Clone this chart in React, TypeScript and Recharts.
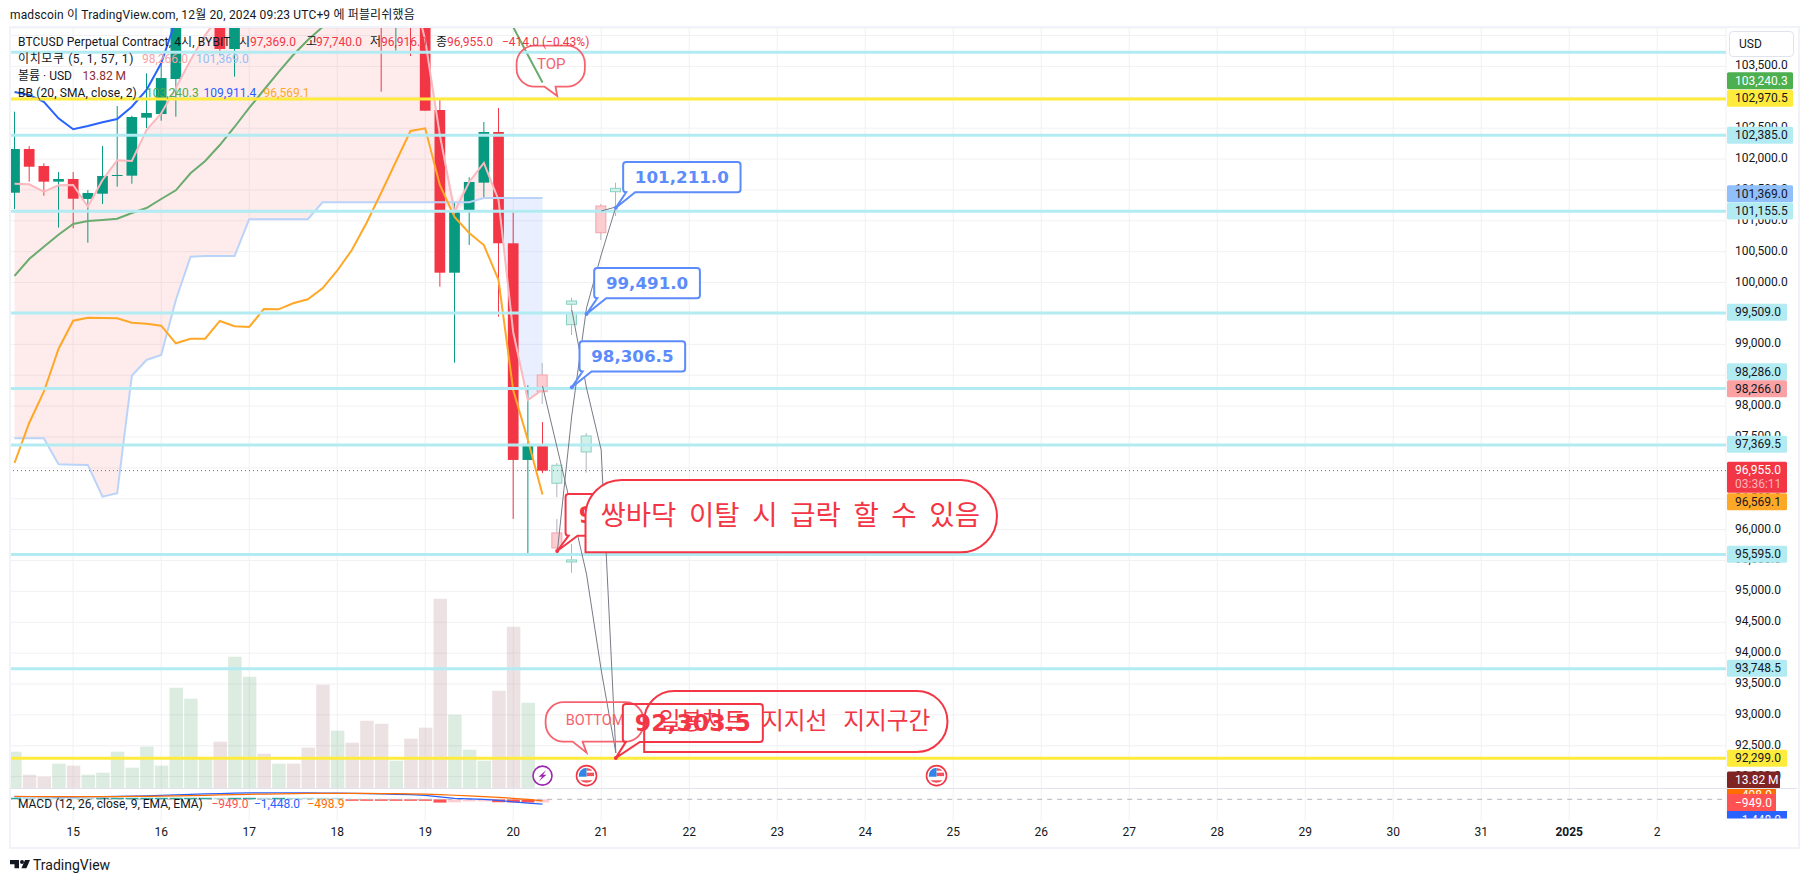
import React from "react";
import {
  Area,
  Bar,
  CartesianGrid,
  Cell,
  ComposedChart,
  Line,
  ReferenceDot,
  ReferenceLine,
  XAxis,
  YAxis,
} from "recharts";

// 4h bars, slot 0 is the first visible candle of Dec 14
const slotCount = 117;
const dayTicks = [4, 10, 16, 22, 28, 34, 40, 46, 52, 58, 64, 70, 76, 82, 88, 94, 100, 106, 112];
const dayLabels = ["15", "16", "17", "18", "19", "20", "21", "22", "23", "24", "25", "26", "27", "28", "29", "30", "31", "2025", "2"];
const priceTicks = [92000, 92500, 93000, 93500, 94000, 94500, 95000, 95500, 96000, 96500, 97000, 97500, 98000, 98500, 99000, 99500, 100000, 100500, 101000, 101500, 102000, 102500, 103000, 103500, 104000];

const opens = [101455, 102163, 101888, 101634, 101677, 101354, 101439, 101731, 101731, 102670, 102729, 103296, 104300, 105000, 105400, 103782, 104900, 105900, 105100, 105500, 105200, 105800, 105100, 105800, 105300, 105300, 104500, 105400, 104900, 102794, 100160, 101147, 101618, 102438, 100636, 97128, 97369];
const highs = [102767, 102211, 101932, 101791, 101791, 101499, 102211, 102859, 102702, 103388, 103604, 104700, 105300, 105900, 105600, 105100, 106100, 106200, 105800, 105900, 105500, 106000, 106000, 106000, 105500, 105500, 105600, 105600, 105100, 102973, 101310, 101705, 102600, 102827, 101159, 98337, 97740];
const lows = [101191, 101634, 101407, 100889, 100879, 100646, 101272, 101553, 101601, 102503, 102621, 102686, 104250, 104800, 103685, 103333, 104600, 104900, 104800, 104900, 104700, 104900, 104800, 105000, 104500, 103091, 103755, 103669, 102783, 99933, 98703, 100609, 101370, 99448, 96172, 95590, 96916];
const closes = [102163, 101876, 101634, 101677, 101358, 101451, 101726, 101742, 102681, 102746, 103312, 104300, 105000, 105600, 103782, 104900, 105900, 105100, 105500, 105200, 104900, 105100, 105800, 105300, 104800, 104500, 105400, 104900, 102783, 100160, 101164, 101629, 102438, 100636, 97128, 97387, 96955];
const volumes = [336, 129, 111, 228, 210, 129, 147, 336, 192, 381, 210, 912, 813, 285, 426, 1191, 1011, 318, 228, 228, 372, 939, 525, 417, 615, 588, 255, 453, 552, 1713, 669, 354, 255, 885, 1461, 777, 13.82];

const leadOne = [101601, 101591, 101471, 101575, 101580, 101229, 101661, 101980, 101968, 102470, 102741, 103150, 103604, 104008, 104332, 104600, 104800, 105000, 105200, 105300, 105400, 105500, 105500, 105600, 105500, 105400, 105300, 104900, 103927, 102389, 101143, 101629, 101936, 101337, 99200, 98099, 98266];
const leadTwo = [97479, 97479, 97479, 97058, 97052, 97047, 96534, 96588, 98492, 98747, 98828, 99718, 100419, 100430, 100430, 100430, 101025, 101025, 101025, 101025, 101025, 101300, 101300, 101300, 101300, 101300, 101300, 101300, 101300, 101300, 101300, 101300, 101369, 101369, 101369, 101369, 101369];
const bbUpper = [103086, 103037, 102928, 102660, 102482, 102535, 102595, 102648, 102848, 103118, 103550, 104251, 104900, 105500, 106100, 106600, 107000, 107300, 107600, 107800, 108000, 108150, 108300, 108400, 108500, 108600, 108700, 108850, 109000, 109150, 109300, 109450, 109550, 109650, 109750, 109850, 109911.4];
const bbBasis = [100107, 100382, 100581, 100775, 100949, 100997, 101013, 101034, 101127, 101207, 101353, 101494, 101769, 101968, 102227, 102519, 102827, 103118, 103409, 103685, 103927, 104138, 104500, 104800, 105000, 105200, 105300, 105400, 105400, 105300, 105100, 104900, 104700, 104400, 104138, 103685, 103240.3];
const bbLower = [97079, 97727, 98233, 98925, 99383, 99432, 99427, 99422, 99350, 99334, 99302, 99017, 99091, 99091, 99378, 99292, 99281, 99572, 99567, 99665, 99729, 99907, 100192, 100527, 100965, 101455, 101957, 102454, 102498, 101580, 101062, 100803, 100608, 100042, 98261, 97451, 96569.1];

const macdLine = [790, 780, 760, 740, 750, 780, 830, 880, 950, 1050, 1150, 1300, 1450, 1600, 1720, 1830, 1900, 1950, 1970, 1960, 1920, 1880, 1850, 1800, 1700, 1600, 1500, 1400, 1150, 750, 300, 100, -50, -300, -800, -1150, -1448];
const macdSignal = [850, 840, 830, 820, 810, 810, 820, 830, 850, 890, 940, 1000, 1100, 1200, 1300, 1400, 1500, 1580, 1650, 1700, 1750, 1780, 1790, 1790, 1760, 1720, 1680, 1620, 1550, 1420, 1220, 1000, 800, 580, 300, -50, -498.9];
const macdHist = [300, 280, 150, 120, 100, 90, 100, 110, 130, 200, 260, 330, 400, 420, 300, 330, 350, 280, 300, 250, 180, 120, 60, -10, -60, -120, -220, -280, -400, -1000, -920, -640, -620, -880, -950, -980, -949];

// the pasted "ghost feed" candles after the last real bar
const ghostFirst = [
  { slot: 36, open: 98504, high: 98698, low: 98035, close: 98233 },
  { slot: 37, open: 96751, high: 97079, low: 96524, close: 97042 },
  { slot: 38, open: 99318, high: 99751, low: 99151, close: 99508 },
  { slot: 39, open: 97257, high: 97565, low: 96922, close: 97516 },
  { slot: 40, open: 101240, high: 101272, low: 100689, close: 100807 },
  { slot: 41, open: 101471, high: 101617, low: 101078, close: 101526 },
];
const ghostSecond = [
  { slot: 37, open: 95946, high: 96172, low: 95590, close: 95703 },
  { slot: 38, open: 99649, high: 99751, low: 99600, close: 99702 },
];
const ghostThird = [{ slot: 38, open: 95476, high: 95768, low: 95303, close: 95509 }];

// gray ghost feed paths
const pathOne = [
  { slot: 36, price: 98326 },
  { slot: 37, price: 97322 },
  { slot: 38, price: 96318 },
  { slot: 39, price: 95282 },
  { slot: 40, price: 93728 },
  { slot: 41, price: 92384 },
];
const pathTwo = [
  { slot: 37, price: 95622 },
  { slot: 38, price: 97856 },
  { slot: 39, price: 99589 },
  { slot: 40, price: 100447 },
  { slot: 41, price: 101224 },
];
const pathThree = [
  { slot: 38, price: 99556 },
  { slot: 39, price: 98293 },
  { slot: 40, price: 97290 },
  { slot: 41, price: 92384 },
];
const pathFour = [
  { slot: 40, price: 101159 },
  { slot: 41, price: 101224 },
];

const cyanLevels = [103729, 102385, 101155.5, 99509, 98286, 97369.5, 95595, 93748.5];
const yellowLevels = [102970.5, 92299];
const lastPrice = 96955;

const tagTexts = ["103,240.3", "102,970.5", "102,385.0", "101,369.0", "101,155.5", "99,509.0", "98,286.0", "98,266.0", "97,369.5", "96,569.1", "95,595.0", "93,748.5", "92,299.0", "13.82 M"];
const tagAnchors = [103269, 102984, 102385, 101439, 101159, 99519, 98557, 98282, 97382, 96453, 95601, 93755, 92298, 91947];
const tagFills = ["#4caf50", "#ffeb3b", "#b2ebf2", "#90bff9", "#b2ebf2", "#b2ebf2", "#b2ebf2", "#faa1a4", "#b2ebf2", "#ffa726", "#b2ebf2", "#b2ebf2", "#ffeb3b", "#7f2323"];
const tagInks = ["#fff", "#131722", "#131722", "#131722", "#131722", "#131722", "#131722", "#131722", "#131722", "#131722", "#131722", "#131722", "#131722", "#fff"];
const macdTagTexts = ["\u2212498.9", "\u2212949.0", "\u22121,448.0"];
const macdTagAnchors = [1440, -960, -6060];
const macdTagFills = ["#ff6d00", "#ff5252", "#2962ff"];

const cloudSwitch = 33;

const toOhlc = (i: number) => ({ open: opens[i], high: highs[i], low: lows[i], close: closes[i] });
const rows = Array.from({ length: slotCount }, (_, slot) => {
  const real = slot < opens.length;
  const lo = Math.min(leadOne[slot], leadTwo[slot]);
  const hi = Math.max(leadOne[slot], leadTwo[slot]);
  return {
    slot,
    candle: real ? toOhlc(slot) : null,
    volume: real ? volumes[slot] : null,
    leadOne: real ? leadOne[slot] : null,
    leadTwo: real ? leadTwo[slot] : null,
    bbUpper: real ? bbUpper[slot] : null,
    bbBasis: real ? bbBasis[slot] : null,
    bbLower: real ? bbLower[slot] : null,
    cloudPink: real && slot <= cloudSwitch ? [lo, hi] : null,
    cloudBlue: real && slot >= cloudSwitch ? [lo, hi] : null,
    macd: real ? macdLine[slot] : null,
    signal: real ? macdSignal[slot] : null,
    hist: real ? macdHist[slot] : null,
    ghostFirst: ghostFirst.find((g) => g.slot === slot) ?? null,
    ghostSecond: ghostSecond.find((g) => g.slot === slot) ?? null,
    ghostThird: ghostThird.find((g) => g.slot === slot) ?? null,
    pathOne: pathOne.find((g) => g.slot === slot)?.price ?? null,
    pathTwo: pathTwo.find((g) => g.slot === slot)?.price ?? null,
    pathThree: pathThree.find((g) => g.slot === slot)?.price ?? null,
    pathFour: pathFour.find((g) => g.slot === slot)?.price ?? null,
  };
});

const UI_FONT = "Roboto, 'Noto Sans CJK KR', sans-serif";
const CALLOUT_FONT = "'DejaVu Sans', sans-serif";
const RED = "#f23645";
const GREEN = "#089981";
const TAG_X = 1727;
const TAG_TEXT_X = 1735;
const PRICE_DOMAIN = [91800, 104122];

// wick + body, the y scale comes from the bar rectangle recharts hands over
const candleShape =
  (key: string, ghost: boolean) =>
  (props: any) => {
    const { x, y, width, height, payload } = props;
    const c = payload[key];
    if (!c) return <g />;
    const perPrice = height / (c.high - c.low);
    const top = y + (c.high - Math.max(c.open, c.close)) * perPrice;
    const bodyH = Math.max(Math.abs(c.open - c.close) * perPrice, 1);
    const up = c.close >= c.open;
    const mid = x + width / 2;
    if (ghost) {
      return (
        <g>
          <line x1={mid} x2={mid} y1={y} y2={y + height} stroke="#b2b5be" />
          <rect
            x={x}
            y={top}
            width={width}
            height={bodyH}
            fill={up ? "#d2f0ea" : "#fbcdd1"}
            stroke={up ? "#8ad0c3" : "#f4a3aa"}
            strokeWidth={1}
          />
        </g>
      );
    }
    const color = up ? GREEN : RED;
    return (
      <g>
        <line x1={mid} x2={mid} y1={y} y2={y + height} stroke={color} />
        <rect x={x} y={top} width={width} height={bodyH} fill={color} />
      </g>
    );
  };

// MACD histogram column, dark while the bar grows away from zero
const histShape = (props: any) => {
  const { x, y, width, height, payload } = props;
  const h = payload.hist;
  if (h === null || h === undefined) return <g />;
  const prev = payload.slot > 0 ? macdHist[payload.slot - 1] : 0;
  const strong = h >= 0 ? h >= prev : h <= prev;
  const fill = h >= 0 ? (strong ? "#26a69a" : "#b2dfdb") : strong ? "#ff5252" : "#ffcdd2";
  const tall = Math.max(Math.abs(height), 1.5);
  // keep thin columns on their own side of the zero line
  const top = h >= 0 ? y + height - tall : height < 0 ? y + height : y;
  return <rect x={x} y={top} width={width} height={tall} fill={fill} />;
};

const PriceTick = (props: any) =>
  // 104,000 sits behind the USD button in the reference
  props.payload.value >= 104000 ? (
    <g />
  ) : (
    <text x={TAG_TEXT_X} y={props.y + 3} fontSize={12} fontFamily={UI_FONT} fill="#131722">
      {props.payload.value.toLocaleString("en-US", { minimumFractionDigits: 1 })}
    </text>
  );

const DayTick = (props: any) => {
  const label = dayLabels[dayTicks.indexOf(props.payload.value)];
  return (
    <text
      x={props.x}
      y={832 - 789 + 4}
      textAnchor="middle"
      fontSize={12}
      fontFamily={UI_FONT}
      fontWeight={label === "2025" ? 700 : 400}
      fill="#131722"
    >
      {label}
    </text>
  );
};

const PriceTag = ({ cy, text, fill, ink }: any) => (
  <g>
    <rect
      x={TAG_X}
      y={cy - 8.5}
      width={text.length > 8 ? 66 : text.length > 7 ? 60 : 53}
      height={17}
      rx={1.5}
      fill={fill}
    />
    <text x={TAG_TEXT_X} y={cy + 4} fontSize={12} fontFamily={UI_FONT} fill={ink}>
      {text}
    </text>
  </g>
);

const bubblePath = (x: number, y: number, w: number, h: number, r: number, t1: number, t2: number, tx: number, ty: number) =>
  `M${x + r} ${y}H${x + w - r}A${r} ${r} 0 0 1 ${x + w} ${y + r}V${y + h - r}A${r} ${r} 0 0 1 ${x + w - r} ${y + h}` +
  `H${x + t2}L${tx} ${ty}L${x + t1} ${y + h}H${x + r}A${r} ${r} 0 0 1 ${x} ${y + h - r}V${y + r}A${r} ${r} 0 0 1 ${x + r} ${y}Z`;

// price label box with a tail, cx/cy is the tail tip
const PriceCallout = ({ cx, cy, dx, dy, w, h, text, color, fontSize, fill, t2 }: any) => {
  const x = cx + dx;
  const y = cy + dy;
  return (
    <g>
      <path d={bubblePath(x, y, w, h, 3, 3, t2 ?? 12, cx, cy)} fill={fill ?? "#fff"} stroke={color} strokeWidth={2} />
      <circle cx={cx} cy={cy} r={2} fill={color} />
      <text
        x={x + w / 2}
        y={y + h / 2 + fontSize * 0.36}
        textAnchor="middle"
        fontSize={fontSize}
        fontWeight={700}
        fontFamily={CALLOUT_FONT}
        fill={color}
      >
        {text}
      </text>
    </g>
  );
};

// soft pink speech bubble
const SpeechBubble = ({ cx, cy, dx, dy, w, h, t1, t2, text, fontSize }: any) => {
  const x = cx + dx;
  const y = cy + dy;
  return (
    <g>
      <path d={bubblePath(x, y, w, h, 18, t1, t2, cx, cy)} fill="none" stroke="#f4636f" strokeWidth={1.8} />
      <text
        x={x + w / 2 + 0.5}
        y={y + h / 2 + fontSize * 0.33 - 2}
        textAnchor="middle"
        fontSize={fontSize}
        fontFamily={UI_FONT}
        fill="#f4636f"
      >
        {text}
      </text>
    </g>
  );
};

// pill note, square bottom left corner sits on the anchor
const PillNote = ({ cx, cy, w, h, r, text, fontSize, gap, fill }: any) => {
  const x = cx - 1;
  const y = cy - h;
  const d = `M${x + r} ${y}H${x + w - r}A${r} ${r} 0 0 1 ${x + w - r} ${y + h}H${x}V${y + r}A${r} ${r} 0 0 1 ${x + r} ${y}Z`;
  return (
    <g>
      <path d={d} fill={fill} stroke={RED} strokeWidth={2} />
      <text
        x={x + w / 2 - 1}
        y={y + h / 2 + fontSize * 0.33}
        textAnchor="middle"
        fontSize={fontSize}
        fontFamily="'Noto Sans CJK KR', sans-serif"
        style={{ wordSpacing: gap }}
        fill={RED}
      >
        {text}
      </text>
    </g>
  );
};

const BoltIcon = ({ cx, cy }: any) => (
  <g>
    <circle cx={cx} cy={cy} r={9.5} fill="#fff" stroke="#9c27b0" strokeWidth={1.6} />
    <path
      d={`M${cx + 3.5} ${cy - 5.5}L${cx - 4} ${cy + 1}H${cx - 0.5}L${cx - 3.5} ${cy + 5.5}L${cx + 4} ${cy - 1}H${cx + 0.5}Z`}
      fill="#9c27b0"
    />
  </g>
);

const FlagIcon = ({ cx, cy }: any) => (
  <g>
    <circle cx={cx} cy={cy} r={10} fill="#fff" stroke={RED} strokeWidth={1.6} />
    <path d={`M${cx - 7.6} ${cy + 2.5}A8 8 0 0 0 ${cx + 7.6} ${cy + 2.5}Z`} fill="#fff" />
    <rect x={cx} y={cy - 3} width={7.5} height={3.5} fill="#f0535f" />
    <path d={`M${cx - 6} ${cy + 4.5}H${cx + 6}A8 8 0 0 1 ${cx - 6} ${cy + 4.5}Z`} fill="#f0535f" />
    <path d={`M${cx} ${cy - 7.6}A8 8 0 0 1 ${cx + 6} ${cy - 5}H${cx}Z`} fill="#f0535f" />
    <path d={`M${cx} ${cy - 7.8}A8 8 0 0 0 ${cx - 7.8} ${cy + 1}H${cx}Z`} fill="#2f86e6" />
  </g>
);

const LegendText = ({ x, y, color, children, size, spacing }: any) => (
  <span
    style={{
      position: "absolute",
      left: x,
      top: y - 8,
      lineHeight: "16px",
      fontSize: size ?? 12,
      letterSpacing: spacing ?? 0,
      fontFamily: UI_FONT,
      color: color ?? "#131722",
      whiteSpace: "nowrap",
    }}
  >
    {children}
  </span>
);

const barAxes = ["main", "vol", "ghostFirst", "ghostSecond", "ghostThird"];
const PLOT_LEFT = 7.17;
const RIGHT_GUTTER = 82;
const AXIS_PAD = { left: 0, right: 2.8 };

export default function App() {
  return (
    <div style={{ position: "absolute", left: 0, top: 0, width: 1808, height: 882, background: "#fff", overflow: "hidden" }}>
      <ComposedChart
        width={1808}
        height={789}
        data={rows}
        margin={{ top: 28, right: RIGHT_GUTTER - 72, bottom: 0, left: PLOT_LEFT }}
        style={{ position: "absolute", left: 0, top: 0 }}
      >
        {barAxes.map((id) => (
          <XAxis
            key={id}
            xAxisId={id}
            dataKey="slot"
            type="category"
            hide
            ticks={dayTicks}
            interval={0}
            padding={AXIS_PAD}
          />
        ))}
        <YAxis
          yAxisId="price"
          orientation="right"
          width={72}
          domain={PRICE_DOMAIN}
          allowDataOverflow
          ticks={priceTicks}
          interval={0}
          axisLine={false}
          tickLine={false}
          tick={<PriceTick />}
        />
        <YAxis yAxisId="vol" hide domain={[0, 6849]} />
        <CartesianGrid xAxisId="main" yAxisId="price" stroke="#f1f1f4" strokeWidth={1} />

        <Bar xAxisId="vol" yAxisId="vol" dataKey="volume" barSize={13.5} isAnimationActive={false}>
          {rows.map((r) => (
            <Cell
              key={r.slot}
              fill={r.candle && r.candle.close >= r.candle.open ? "rgba(22,128,48,0.15)" : "rgba(135,62,68,0.15)"}
            />
          ))}
        </Bar>

        <Area xAxisId="main" yAxisId="price" dataKey="cloudPink" type="linear" stroke="none" fill="#f23645" fillOpacity={0.1} dot={false} activeDot={false} isAnimationActive={false} />
        <Area xAxisId="main" yAxisId="price" dataKey="cloudBlue" type="linear" stroke="none" fill="#2962ff" fillOpacity={0.1} dot={false} activeDot={false} isAnimationActive={false} />
        <Line xAxisId="main" yAxisId="price" dataKey="leadOne" type="linear" stroke="#f9b9be" strokeWidth={2} dot={false} activeDot={false} isAnimationActive={false} />
        <Line xAxisId="main" yAxisId="price" dataKey="leadTwo" type="linear" stroke="#bad4f9" strokeWidth={2} dot={false} activeDot={false} isAnimationActive={false} />
        <Line xAxisId="main" yAxisId="price" dataKey="bbUpper" type="linear" stroke="#2962ff" strokeWidth={2} dot={false} activeDot={false} isAnimationActive={false} />
        <Line xAxisId="main" yAxisId="price" dataKey="bbBasis" type="linear" stroke="#6aab6e" strokeWidth={2} dot={false} activeDot={false} isAnimationActive={false} />
        <Line xAxisId="main" yAxisId="price" dataKey="bbLower" type="linear" stroke="#ffa726" strokeWidth={2} dot={false} activeDot={false} isAnimationActive={false} />

        {cyanLevels.map((level) => (
          <ReferenceLine key={level} xAxisId="main" yAxisId="price" y={level} stroke="#b2ebf2" strokeWidth={3} />
        ))}
        {yellowLevels.map((level) => (
          <ReferenceLine key={level} xAxisId="main" yAxisId="price" y={level} stroke="#ffeb3b" strokeWidth={3} />
        ))}
        <ReferenceLine xAxisId="main" yAxisId="price" y={lastPrice} stroke={RED} strokeWidth={1} strokeDasharray="1 3" />

        <Bar
          xAxisId="main"
          yAxisId="price"
          dataKey={(d: any) => (d.candle ? [d.candle.low, d.candle.high] : null)}
          barSize={10.7}
          shape={candleShape("candle", false)}
          isAnimationActive={false}
        />
        <Bar
          xAxisId="ghostFirst"
          yAxisId="price"
          dataKey={(d: any) => (d.ghostFirst ? [d.ghostFirst.low, d.ghostFirst.high] : null)}
          barSize={10}
          shape={candleShape("ghostFirst", true)}
          isAnimationActive={false}
        />
        <Bar
          xAxisId="ghostSecond"
          yAxisId="price"
          dataKey={(d: any) => (d.ghostSecond ? [d.ghostSecond.low, d.ghostSecond.high] : null)}
          barSize={10}
          shape={candleShape("ghostSecond", true)}
          isAnimationActive={false}
        />
        <Bar
          xAxisId="ghostThird"
          yAxisId="price"
          dataKey={(d: any) => (d.ghostThird ? [d.ghostThird.low, d.ghostThird.high] : null)}
          barSize={10}
          shape={candleShape("ghostThird", true)}
          isAnimationActive={false}
        />

        <ReferenceDot
          xAxisId="main"
          yAxisId="price"
          x={37}
          y={95654}
          r={0}
          ifOverflow="visible"
          shape={(p: any) => <PriceCallout cx={p.cx} cy={p.cy} dx={8.4} dy={-57} w={140} h={41.7} text="95,654.0" color={RED} fontSize={23} />}
        />
        <ReferenceDot
          xAxisId="main"
          yAxisId="price"
          x={39}
          y={95633}
          r={0}
          ifOverflow="visible"
          shape={(p: any) => <PillNote cx={p.cx} cy={p.cy} w={411.3} h={72.3} r={36} fontSize={27.5} gap={6.5} fill="#fff" text="쌍바닥 이탈 시 급락 할 수 있음" />}
        />

        <Line xAxisId="main" yAxisId="price" dataKey="pathOne" type="linear" stroke="#787b86" strokeWidth={1} dot={false} activeDot={false} isAnimationActive={false} />
        <Line xAxisId="main" yAxisId="price" dataKey="pathTwo" type="linear" stroke="#787b86" strokeWidth={1} dot={false} activeDot={false} isAnimationActive={false} />
        <Line xAxisId="main" yAxisId="price" dataKey="pathThree" type="linear" stroke="#787b86" strokeWidth={1} dot={false} activeDot={false} isAnimationActive={false} />
        <Line xAxisId="main" yAxisId="price" dataKey="pathFour" type="linear" stroke="#787b86" strokeWidth={1} dot={false} activeDot={false} isAnimationActive={false} />

        <ReferenceDot
          xAxisId="main"
          yAxisId="price"
          x={41}
          y={101211}
          r={0}
          ifOverflow="visible"
          shape={(p: any) => <PriceCallout cx={p.cx} cy={p.cy} dx={7.3} dy={-45.8} w={117.4} h={30.3} text="101,211.0" color="#5c8bfb" fontSize={16.7} />}
        />
        <ReferenceDot
          xAxisId="main"
          yAxisId="price"
          x={39}
          y={99491}
          r={0}
          ifOverflow="visible"
          shape={(p: any) => <PriceCallout cx={p.cx} cy={p.cy} dx={7.7} dy={-46} w={105.7} h={30.3} text="99,491.0" color="#5c8bfb" fontSize={16.7} />}
        />
        <ReferenceDot
          xAxisId="main"
          yAxisId="price"
          x={38}
          y={98306.5}
          r={0}
          ifOverflow="visible"
          shape={(p: any) => <PriceCallout cx={p.cx} cy={p.cy} dx={7.7} dy={-45.9} w={105.6} h={30.3} text="98,306.5" color="#5c8bfb" fontSize={16.7} />}
        />
        <ReferenceDot
          xAxisId="main"
          yAxisId="price"
          x={37}
          y={103021}
          r={0}
          ifOverflow="visible"
          shape={(p: any) => <SpeechBubble cx={p.cx} cy={p.cy} dx={-40.6} dy={-50.3} w={68.3} h={41} t1={28} t2={39} text="TOP" fontSize={15} />}
        />
        <ReferenceDot
          xAxisId="main"
          yAxisId="price"
          x={39}
          y={92389}
          r={0}
          ifOverflow="visible"
          shape={(p: any) => <SpeechBubble cx={p.cx} cy={p.cy} dx={-40.9} dy={-50.4} w={97.9} h={39.4} t1={27} t2={37} text="BOTTOM" fontSize={14.5} />}
        />
        <ReferenceDot
          xAxisId="main"
          yAxisId="price"
          x={43}
          y={92400}
          r={0}
          ifOverflow="visible"
          shape={(p: any) => <PillNote cx={p.cx} cy={p.cy} w={302.8} h={61} r={30} fontSize={23.7} gap={10.6} fill="none" text="일봉차트 지지선 지지구간" />}
        />
        <ReferenceDot
          xAxisId="main"
          yAxisId="price"
          x={41}
          y={92303.5}
          r={0}
          ifOverflow="visible"
          shape={(p: any) => <PriceCallout cx={p.cx} cy={p.cy} dx={7} dy={-54} w={140} h={38} t2={17} fill="none" text="92,303.5" color={RED} fontSize={23.5} />}
        />

        <ReferenceDot xAxisId="main" yAxisId="price" x={36} y={92016} r={0} ifOverflow="visible" shape={(p: any) => <BoltIcon cx={p.cx} cy={p.cy} />} />
        <ReferenceDot xAxisId="main" yAxisId="price" x={39} y={92016} r={0} ifOverflow="visible" shape={(p: any) => <FlagIcon cx={p.cx} cy={p.cy} />} />
        <ReferenceDot xAxisId="main" yAxisId="price" x={63} y={92016} r={0} ifOverflow="visible" shape={(p: any) => <FlagIcon cx={p.cx - 2} cy={p.cy} />} />
      </ComposedChart>

      <ComposedChart
        width={1808}
        height={93}
        data={rows}
        margin={{ top: 0, right: RIGHT_GUTTER, bottom: 36, left: PLOT_LEFT }}
        style={{ position: "absolute", left: 0, top: 789 }}
      >
        <XAxis
          dataKey="slot"
          type="category"
          ticks={dayTicks}
          interval={0}
          padding={AXIS_PAD}
          height={25}
          axisLine={false}
          tickLine={false}
          tick={<DayTick />}
        />
        <YAxis hide domain={[-6510, 3090]} />
        <CartesianGrid stroke="#f1f1f4" strokeWidth={1} horizontal={false} />
        <ReferenceLine y={0} stroke="#b2b5be" strokeDasharray="5 5" />
        <Bar dataKey="hist" barSize={13} shape={histShape} isAnimationActive={false} />
        <Line dataKey="macd" type="linear" stroke="#2962ff" strokeWidth={1.2} dot={false} activeDot={false} isAnimationActive={false} />
        <Line dataKey="signal" type="linear" stroke="#ff6d00" strokeWidth={1.2} dot={false} activeDot={false} isAnimationActive={false} />
        {macdTagTexts.map((text, i) => (
          <ReferenceDot
            key={text}
            x={116}
            y={macdTagAnchors[i]}
            r={0}
            ifOverflow="visible"
            shape={(p: any) => (
              <g clipPath="url(#macdTagClip)">
                <clipPath id="macdTagClip">
                  <rect x={TAG_X} y={0} width={70} height={29.4} />
                </clipPath>
                <rect x={TAG_X} y={p.cy - 8.5} width={i === 2 ? 60 : 49} height={17} fill={macdTagFills[i]} />
                <text x={TAG_TEXT_X} y={p.cy + 4} fontSize={12} fontFamily={UI_FONT} fill="#fff">
                  {text}
                </text>
              </g>
            )}
          />
        ))}
      </ComposedChart>

      {/* tags live in their own chart so they stay above the axis labels */}
      <ComposedChart
        width={1808}
        height={789}
        data={rows}
        margin={{ top: 28, right: RIGHT_GUTTER, bottom: 0, left: PLOT_LEFT }}
        style={{ position: "absolute", left: 0, top: 0 }}
      >
        <XAxis dataKey="slot" type="category" hide padding={AXIS_PAD} />
        <YAxis hide domain={PRICE_DOMAIN} allowDataOverflow />
        {tagTexts.map((text, i) => (
          <ReferenceDot
            key={text}
            x={116}
            y={tagAnchors[i]}
            r={0}
            ifOverflow="visible"
            shape={(p: any) => <PriceTag cy={p.cy} text={text} fill={tagFills[i]} ink={tagInks[i]} />}
          />
        ))}
        <ReferenceDot
          x={116}
          y={96848}
          r={0}
          ifOverflow="visible"
          shape={(p: any) => (
            <g>
              <rect x={TAG_X} y={p.cy - 15.5} width={60} height={31} rx={1.5} fill={RED} />
              <text x={TAG_TEXT_X} y={p.cy - 3} fontSize={12} fontFamily={UI_FONT} fill="#fff">
                96,955.0
              </text>
              <text x={TAG_TEXT_X} y={p.cy + 11} fontSize={12} fontFamily={UI_FONT} fill="#fbb4ba">
                03:36:11
              </text>
            </g>
          )}
        />
      </ComposedChart>

      {/* frame and pane divider */}
      <div style={{ position: "absolute", left: 0, top: 0, width: 9, height: 882, background: "#fff" }} />
      <div style={{ position: "absolute", left: 9, top: 26, width: 1787, height: 819, border: "2px solid #f0f3fa", pointerEvents: "none" }} />
      <div style={{ position: "absolute", left: 10, top: 788, width: 1787, height: 1, background: "#e0e3eb" }} />

      <LegendText x={10} y={15} spacing={0.15}>madscoin 이 TradingView.com, 12월 20, 2024 09:23 UTC+9 에 퍼블리쉬했음</LegendText>

      <LegendText x={18} y={42} spacing={0.12}>BTCUSD Perpetual Contract, 4시, BYBIT</LegendText>
      <LegendText x={239} y={42}>시</LegendText>
      <LegendText x={250} y={42} color={RED}>97,369.0</LegendText>
      <LegendText x={306} y={42}>고</LegendText>
      <LegendText x={316} y={42} color={RED}>97,740.0</LegendText>
      <LegendText x={370} y={42}>저</LegendText>
      <LegendText x={381} y={42} color={RED}>96,916.0</LegendText>
      <LegendText x={436} y={42}>종</LegendText>
      <LegendText x={447} y={42} color={RED}>96,955.0</LegendText>
      <LegendText x={502} y={42} color={RED}>−414.0 (−0.43%)</LegendText>

      <LegendText x={18} y={59} spacing={0.6}>이치모쿠 (5, 1, 57, 1)</LegendText>
      <LegendText x={142} y={59} color="#faa1a4">98,266.0</LegendText>
      <LegendText x={196} y={59} color="#90bff9">101,369.0</LegendText>

      <LegendText x={18} y={76}>볼륨 · USD</LegendText>
      <LegendText x={82.5} y={76} color="#8c2f2f">13.82 M</LegendText>

      <LegendText x={18} y={93} spacing={0.1}>BB (20, SMA, close, 2)</LegendText>
      <LegendText x={146} y={93} color="#4caf50">103,240.3</LegendText>
      <LegendText x={203.6} y={93} color="#2962ff">109,911.4</LegendText>
      <LegendText x={263.6} y={93} color="#ffa726">96,569.1</LegendText>

      <LegendText x={18} y={804}>MACD (12, 26, close, 9, EMA, EMA)</LegendText>
      <LegendText x={211.4} y={804} color="#ff5252">−949.0</LegendText>
      <LegendText x={254} y={804} color="#2962ff">−1,448.0</LegendText>
      <LegendText x={307.5} y={804} color="#ff6d00">−498.9</LegendText>

      <div
        style={{
          position: "absolute",
          left: 1729,
          top: 31,
          width: 65,
          height: 26,
          boxSizing: "border-box",
          border: "1px solid #e0e3eb",
          borderRadius: 4,
          background: "#fff",
          fontFamily: UI_FONT,
          fontSize: 12,
          lineHeight: "24px",
          paddingLeft: 9,
          color: "#131722",
        }}
      >
        USD
      </div>

      <svg style={{ position: "absolute", left: 0, top: 0, pointerEvents: "none" }} width={40} height={882}>
        <path d="M10 860h9v8.3h-4.5v-4h-4.5z" fill="#131722" />
        <circle cx={22} cy={862} r={2} fill="#131722" />
        <path d="M25 860h5l-3.6 8.3h-5z" fill="#131722" />
      </svg>
      <LegendText x={33} y={865} size={14}>TradingView</LegendText>
    </div>
  );
}
